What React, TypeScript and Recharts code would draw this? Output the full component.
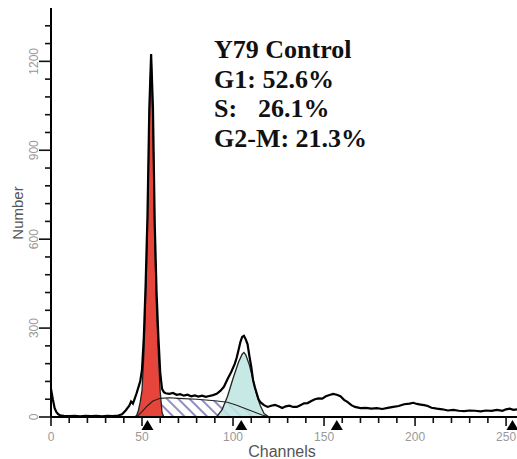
import React from 'react';
import { ComposedChart, Area, Line, XAxis, YAxis, ReferenceDot } from 'recharts';

// Measured histogram (channel, count)
const totalPts: [number, number][] = [
  [0, 95], [1, 60], [2, 30], [3, 16], [4, 9], [5, 6], [7, 4], [10, 3], [13, 4], [16, 2], [19, 4],
  [22, 3], [25, 4], [28, 2], [31, 4], [34, 3], [37, 5], [39, 9], [41, 22], [43, 38], [44, 52],
  [45, 45], [46, 62], [47, 80], [48, 100], [49, 120], [50, 160], [51, 270], [52, 450], [53, 680],
  [54, 1040], [55, 1225], [56, 1045], [57, 650], [58, 420], [59, 270], [60, 150], [61, 95], [62, 84],
  [63, 80], [65, 78], [67, 81], [69, 75], [71, 77], [73, 72], [75, 75], [77, 70], [79, 73], [81, 69],
  [83, 72], [85, 68], [87, 71], [89, 74], [91, 78], [93, 88], [95, 102], [97, 128], [99, 152],
  [101, 180], [102, 200], [103, 225], [104, 252], [105, 270], [106, 274], [107, 262], [108, 245],
  [109, 205], [110, 170], [111, 125], [112, 100], [113, 80], [114, 60], [115, 50], [117, 40],
  [119, 34], [121, 38], [123, 41], [125, 36], [127, 30], [129, 36], [131, 38], [133, 34], [135, 34],
  [137, 40], [139, 46], [141, 47], [143, 54], [145, 60], [147, 63], [149, 62], [151, 70], [153, 74],
  [155, 78], [157, 75], [159, 70], [161, 58], [163, 50], [165, 40], [167, 34], [170, 30], [173, 31],
  [176, 28], [179, 30], [182, 27], [185, 31], [188, 34], [191, 37], [194, 43], [197, 45], [199, 48],
  [201, 44], [203, 42], [205, 40], [207, 37], [209, 31], [212, 28], [215, 26], [218, 22], [221, 24],
  [224, 21], [227, 20], [230, 22], [233, 21], [236, 19], [239, 22], [242, 21], [245, 24], [248, 21],
  [250, 26], [252, 28], [254, 24], [256, 26],
];

// G1 fit (red)
const g1Pts: [number, number][] = [
  [45, 0], [47, 4], [48, 22], [49, 50], [50, 90], [51, 210], [52, 400], [53, 640], [54, 1000],
  [55, 1225], [56, 1000], [57, 590], [58, 360], [59, 210], [60, 85], [61, 15], [62, 0],
];

// S-phase fit (hatched)
const sPts: [number, number][] = [
  [47, 0], [50, 18], [53, 38], [56, 54], [60, 63], [65, 65], [70, 63], [80, 60], [90, 55],
  [97, 50], [102, 40], [107, 28], [112, 16], [116, 7], [120, 0],
];

// G2-M fit (cyan)
const g2Pts: [number, number][] = [
  [91, 0], [94, 25], [97, 70], [100, 130], [103, 185], [105, 212], [106, 218], [107, 210],
  [109, 175], [111, 125], [113, 75], [115, 38], [117, 12], [119, 3], [120, 0],
];

const xTicks = [0, 10, 20, 30, 40, 50, 60, 70, 80, 90, 100, 110, 120, 130, 140, 150, 160, 170, 180, 190, 200, 210, 220, 230, 240, 250];
const xLabels = [0, 50, 100, 150, 200, 250];
const yTicks = [0, 60, 120, 180, 240, 300, 360, 420, 480, 540, 600, 660, 720, 780, 840, 900, 960, 1020, 1080, 1140, 1200, 1260, 1320];
const yLabels = [0, 300, 600, 900, 1200];
const markerChannels = [53, 104.5, 157, 253.5];

const titleLines = ['Y79 Control', 'G1: 52.6%'];
const sLabel = ['S:', '26.1%'];
const g2Label = 'G2-M: 21.3%';

type Row = { ch: number; total?: number; g1?: number; s?: number; g2?: number };
const buildRows = (): Row[] => {
  const m = new Map<number, Row>();
  const add = (pts: [number, number][], key: 'total' | 'g1' | 's' | 'g2') => {
    for (const [c, v] of pts) {
      const r = m.get(c) ?? { ch: c };
      r[key] = v;
      m.set(c, r);
    }
  };
  add(totalPts, 'total');
  add(g1Pts, 'g1');
  add(sPts, 's');
  add(g2Pts, 'g2');
  return Array.from(m.values()).sort((a, b) => a.ch - b.ch);
};
const rows = buildRows();

const AXIS_FONT = '"Liberation Sans", Arial, sans-serif';

const YTick = (props: any) => {
  const { x, y, payload } = props;
  const v = payload.value as number;
  const major = yLabels.includes(v);
  return (
    <g>
      <line x1={x - (major ? 12 : 6)} x2={x} y1={y} y2={y} stroke="#111" strokeWidth={1.6} />
      {major && (
        <text
          x={x - 13}
          y={y}
          transform={`rotate(-90 ${x - 13} ${y})`}
          textAnchor="middle"
          fontSize={12}
          fontFamily={AXIS_FONT}
          fill="#999"
        >
          {v}
        </text>
      )}
    </g>
  );
};

const XTick = (props: any) => {
  const { x, y, payload } = props;
  const v = payload.value as number;
  const major = xLabels.includes(v);
  return (
    <g>
      <line x1={x} x2={x} y1={y} y2={y + (major ? 9 : 6)} stroke="#111" strokeWidth={1.6} />
      {major && (
        <text x={x} y={y + 24} textAnchor="middle" fontSize={12} fontFamily={AXIS_FONT} fill="#999">
          {v}
        </text>
      )}
    </g>
  );
};

const Marker = (p: any) => (
  <path d={`M${p.cx} ${p.cy + 3} L${p.cx - 6} ${p.cy + 13} L${p.cx + 6} ${p.cy + 13} Z`} fill="#000" />
);

export default function App() {
  return (
    <div style={{ position: 'absolute', left: 0, top: 0, width: 517, height: 459, background: '#fff' }}>
      <ComposedChart width={517} height={459} data={rows} margin={{ top: 8, right: 0, bottom: 0, left: 0 }}>
        <defs>
          <pattern id="hatch" patternUnits="userSpaceOnUse" width="8" height="8" patternTransform="rotate(-45)">
            <rect width="8" height="8" fill="#ffffff" />
            <line x1="4" y1="0" x2="4" y2="8" stroke="#6f68ad" strokeWidth="1.5" />
          </pattern>
        </defs>
        <XAxis
          dataKey="ch"
          type="number"
          domain={[0, 256]}
          ticks={xTicks}
          interval={0}
          height={42}
          tickSize={0}
          tickMargin={0}
          tickLine={false}
          tick={<XTick />}
          axisLine={{ stroke: '#000', strokeWidth: 2 }}
          allowDataOverflow
        />
        <YAxis
          type="number"
          domain={[0, 1380]}
          ticks={yTicks}
          interval={0}
          width={51}
          tickSize={0}
          tickMargin={0}
          tickLine={false}
          tick={<YTick />}
          axisLine={{ stroke: '#000', strokeWidth: 2 }}
          allowDataOverflow
        />
        <Area type="linear" dataKey="s" fill="url(#hatch)" fillOpacity={1} stroke="none" connectNulls dot={false} activeDot={false} isAnimationActive={false} />
        <Area type="linear" dataKey="g2" fill="#bfe6e1" fillOpacity={0.88} stroke="#222" strokeWidth={1.3} connectNulls dot={false} activeDot={false} isAnimationActive={false} />
        <Area type="linear" dataKey="g1" fill="#e5453b" fillOpacity={1} stroke="#222" strokeWidth={1.3} connectNulls dot={false} activeDot={false} isAnimationActive={false} />
        <Line type="linear" dataKey="s" stroke="#222" strokeWidth={1.1} connectNulls dot={false} activeDot={false} isAnimationActive={false} />
        <Line type="linear" dataKey="total" stroke="#000" strokeWidth={2.2} connectNulls dot={false} activeDot={false} isAnimationActive={false} />
        {markerChannels.map((c) => (
          <ReferenceDot key={c} x={c} y={0} r={6} shape={<Marker />} ifOverflow="visible" />
        ))}
      </ComposedChart>
      <svg width={517} height={459} style={{ position: 'absolute', left: 0, top: 0, pointerEvents: 'none' }}>
        <g fontFamily='"Liberation Serif", "Times New Roman", serif' fontWeight="bold" fontSize={26} fill="#111">
          <text x={214} y={58}>{titleLines[0]}</text>
          <text x={214} y={88}>{titleLines[1]}</text>
          <text x={214} y={117}>
            {sLabel[0]}
            <tspan x={258}>{sLabel[1]}</tspan>
          </text>
          <text x={214} y={146.5}>{g2Label}</text>
        </g>
        <text x={282} y={457} textAnchor="middle" fontSize={16} fontFamily={AXIS_FONT} fill="#555">
          Channels
        </text>
        <text x={23} y={213} transform="rotate(-90 23 213)" textAnchor="middle" fontSize={15} fontFamily={AXIS_FONT} fill="#555">
          Number
        </text>
      </svg>
    </div>
  );
}
